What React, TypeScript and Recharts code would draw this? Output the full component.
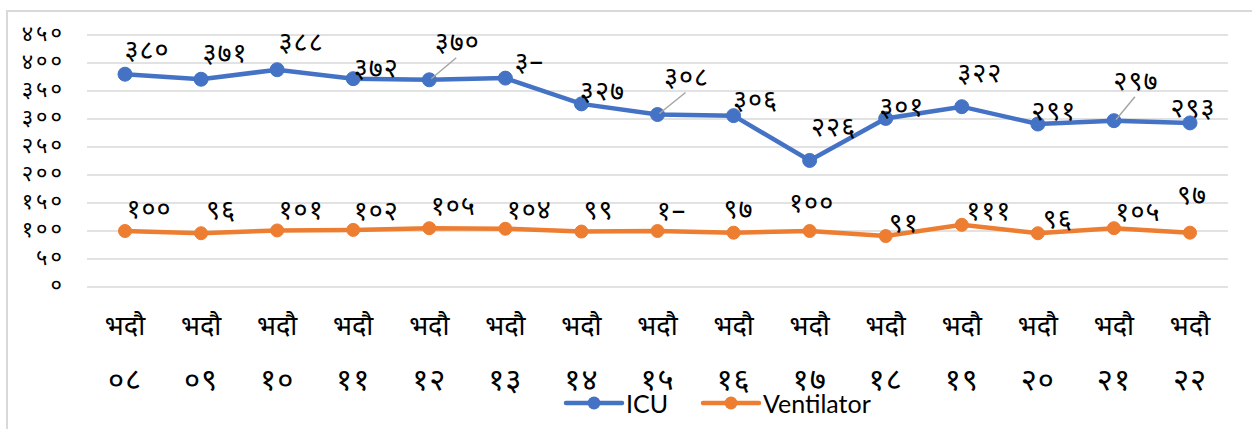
import React from 'react';
import { LineChart, Line, XAxis, YAxis, CartesianGrid, Legend, LabelList } from 'recharts';

const MONTH = 'भदौ';
const DAYS = ['०८', '०९', '१०', '११', '१२', '१३', '१४', '१५', '१६', '१७', '१८', '१९', '२०', '२१', '२२'];
const ICU = [380, 371, 388, 372, 370, 373, 327, 308, 306, 226, 301, 322, 291, 297, 293];
const VENTILATOR = [100, 96, 101, 102, 105, 104, 99, 100, 97, 100, 91, 111, 96, 105, 97];
const ICU_LABELS = ['३८०', '३७१', '३८८', '३७२', '३७०', '३–', '३२७', '३०८', '३०६', '२२६', '३०१', '३२२', '२९१', '२९७', '२९३'];
const VENT_LABELS = ['१००', '९६', '१०१', '१०२', '१०५', '१०४', '९९', '१–', '९७', '१००', '९१', '१११', '९६', '१०५', '९७'];
const Y_TICKS = [0, 50, 100, 150, 200, 250, 300, 350, 400, 450];
const Y_TICK_LABELS = ['०', '५०', '१००', '१५०', '२००', '२५०', '३००', '३५०', '४००', '४५०'];

const data = DAYS.map((d, i) => ({ name: d, icu: ICU[i], vent: VENTILATOR[i] }));

// label placement (presentation only)
const ICU_OFF: [number, number][] = [
  [22, -22], [24, -24], [24, -25], [23, -8], [28, -35], [24, -14], [21, -10], [29, -35],
  [22, -13], [24, -31], [16, -9], [18, -31], [16, -11], [22, -37], [3, -12],
];
const ICU_LEADER = [4, 7, 13];
const VENT_OFF: [number, number][] = [
  [24, -20], [20, -21], [24, -18], [23, -16], [24, -20], [24, -16], [17, -19], [14, -18],
  [5, -21], [2, -26], [18, -11], [27, -11], [20, -12], [24, -14], [2, -35],
];

const DEVA = "'Noto Sans Devanagari', 'Noto Sans', 'Lohit Devanagari', sans-serif";

const makeLabel = (labels: string[], offs: [number, number][], leaders: number[]) => (props: any) => {
  const { x, y, index } = props;
  const [dx, dy] = offs[index];
  return (
    <g>
      {leaders.includes(index) && (
        <line x1={x + 2} y1={y - 1} x2={x + dx - 1} y2={y + dy + 13} stroke="#a6a6a6" strokeWidth={1.5} />
      )}
      <text x={x + dx} y={y + dy} textAnchor="middle" dominantBaseline="central" fontSize={27} letterSpacing={1} fill="#000" fontFamily={DEVA}>
        {labels[index]}
      </text>
    </g>
  );
};

const XTick = (props: any) => {
  const { x, payload } = props;
  return (
    <g>
      <text x={x} y={328} textAnchor="middle" dominantBaseline="central" fontSize={27} fill="#000" fontFamily={DEVA}>
        {MONTH}
      </text>
      <text x={x} y={382} textAnchor="middle" dominantBaseline="central" fontSize={31} letterSpacing={1} fill="#000" fontFamily={DEVA}>
        {payload.value}
      </text>
    </g>
  );
};

const YTick = (props: any) => {
  const { y, payload } = props;
  const idx = Y_TICKS.indexOf(payload.value);
  return (
    <text x={65} y={y} textAnchor="end" dominantBaseline="central" fontSize={22} letterSpacing={3} fill="#000" fontFamily={DEVA}>
      {Y_TICK_LABELS[idx]}
    </text>
  );
};

const LegendContent = () => {
  const items = [
    { name: 'ICU', color: '#4472C4', x: 566 },
    { name: 'Ventilator', color: '#ED7D31', x: 703 },
  ];
  return (
    <svg width={1252} height={30} style={{ display: 'block' }}>
      {items.map((it) => (
        <g key={it.name}>
          <line x1={it.x} y1={15} x2={it.x + 56} y2={15} stroke={it.color} strokeWidth={4.5} strokeLinecap="round" />
          <circle cx={it.x + 28} cy={15} r={6.5} fill={it.color} />
          <text x={it.x + 60} y={15} dominantBaseline="central" fontSize={25} fill="#000" fontFamily="Lato, 'Open Sans', sans-serif">
            {it.name}
          </text>
        </g>
      ))}
    </svg>
  );
};

export default function App() {
  return (
    <div style={{ position: 'absolute', left: 0, top: 0, width: 1252, height: 429, background: '#fff', overflow: 'hidden' }}>
      <div style={{ position: 'absolute', left: 6, top: 10, width: 1252, height: 429, borderLeft: '2px solid #d9d9d9', borderTop: '2px solid #d9d9d9' }} />
      <div style={{ position: 'absolute', left: 0, top: 0 }}>
        <LineChart width={1252} height={429} data={data} margin={{ top: 35, right: 24, bottom: 62, left: 27 }}>
          <CartesianGrid vertical={false} stroke="#d9d9d9" strokeWidth={1.5} />
          <XAxis dataKey="name" axisLine={false} tickLine={false} tick={<XTick />} height={80} interval={0} padding={{ left: 38, right: 38 }} />
          <YAxis domain={[0, 450]} ticks={Y_TICKS} axisLine={false} tickLine={false} tick={<YTick />} width={60} interval={0} />
          <Legend layout="horizontal" verticalAlign="middle" align="center" wrapperStyle={{ top: 388, left: 0, width: 1252, height: 30 }} content={<LegendContent />} />
          <Line dataKey="icu" name="ICU" stroke="#4472C4" strokeWidth={4.5} dot={{ r: 7, fill: '#4472C4', stroke: '#4472C4', strokeWidth: 1 }} isAnimationActive={false}>
            <LabelList dataKey="icu" content={makeLabel(ICU_LABELS, ICU_OFF, ICU_LEADER)} />
          </Line>
          <Line dataKey="vent" name="Ventilator" stroke="#ED7D31" strokeWidth={4.5} dot={{ r: 6.5, fill: '#ED7D31', stroke: '#ED7D31', strokeWidth: 1 }} isAnimationActive={false}>
            <LabelList dataKey="vent" content={makeLabel(VENT_LABELS, VENT_OFF, [])} />
          </Line>
        </LineChart>
      </div>
    </div>
  );
}
